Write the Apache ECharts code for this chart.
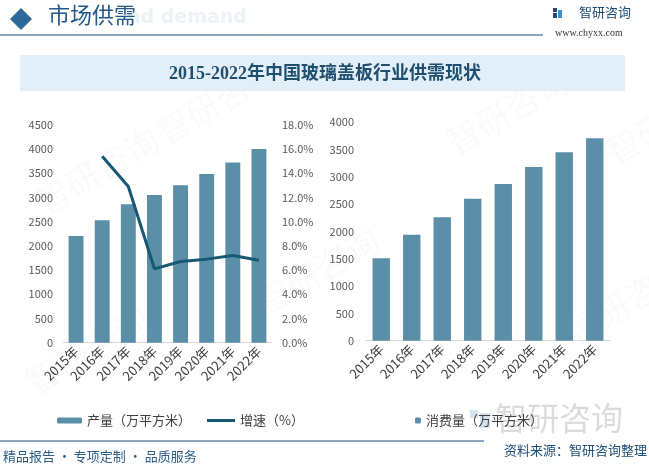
<!DOCTYPE html>
<html><head><meta charset="utf-8">
<script src="https://cdn.jsdelivr.net/npm/echarts@6/dist/echarts.min.js"></script>
<style>html,body{margin:0;padding:0;background:#fff}#c{width:649px;height:467px}</style>
</head><body><div id="c"></div>
<script>
const years = ['2015年','2016年','2017年','2018年','2019年','2020年','2021年','2022年'];
const production = [2200, 2530, 2860, 3050, 3250, 3480, 3720, 4000];
const growth = [null, 15.4, 12.9, 6.1, 6.7, 6.9, 7.2, 6.8];
const consumption = [1510, 1940, 2260, 2600, 2870, 3180, 3450, 3710];
const leftTicks = {min:0, max:4500, interval:500};
const rightTicks = {min:0, max:18, interval:2};
const consTicks = {min:0, max:4000, interval:500};

const BAR = '#5b8ea7', LINE = '#175873', DARK = '#1f4e79';
const FONT = '"Noto Sans CJK SC", "Noto Sans", sans-serif';
const SERIF = '"Liberation Serif", "DejaVu Serif", "Noto Sans CJK SC", serif';
const chart = echarts.init(document.getElementById('c'));
const wm = [];
const wmPos = [[150,120],[30,190],[440,130],[250,290],[560,320],[600,140],[20,370]];
wmPos.forEach(p => wm.push({type:'text', x:p[0], y:p[1], rotation:Math.PI/6, silent:true, z:-10,
  style:{text:'智研咨询', fontSize:34, fontFamily:FONT, fill:'rgba(200,215,230,0.13)'}}));
const legText = {fontSize:13, color:'#404040', fontFamily:FONT};

chart.setOption({
  animation:false,
  textStyle:{fontFamily:FONT},
  graphic: wm.concat([
    {type:'polygon', shape:{points:[[21,8],[32,19],[21,30],[10,19]]}, style:{fill:'#2d6a9a'}},
    {type:'text', x:127, y:9, style:{text:'nd demand', fontSize:19, fontWeight:'bold', fontFamily:'"DejaVu Sans"', fill:'#edf2f7'}},
    {type:'text', x:48, y:4, style:{text:'市场供需', fontSize:22, fontFamily:FONT, fill:'#22598a'}},
    {type:'line', shape:{x1:0,y1:35,x2:543,y2:35}, style:{stroke:DARK, lineWidth:1}},
    {type:'rect', shape:{x:553,y:8,width:4,height:4}, style:{fill:'#1f4e79'}},
    {type:'rect', shape:{x:558,y:10,width:4,height:8}, style:{fill:'#3b8fd0'}},
    {type:'rect', shape:{x:553,y:13,width:4,height:5}, style:{fill:'#1f4e79'}},
    {type:'text', x:579, y:6, style:{text:'智研咨询', fontSize:13, fontFamily:FONT, fill:DARK}},
    {type:'text', x:555, y:28, style:{text:'www.chyxx.com', fontSize:10, fontFamily:'"Liberation Serif", serif', fill:'#333'}},
    {type:'rect', shape:{x:20,y:55,width:605,height:36}, style:{fill:'#e3eff8'}},
    {type:'text', x:325, y:74, style:{text:'2015-2022年中国玻璃盖板行业供需现状', fontSize:18, fontWeight:'bold', fontFamily:SERIF, fill:'#1f4e6e', align:'center', verticalAlign:'middle'}},
    {type:'rect', z:-5, shape:{x:470,y:410,width:8,height:8}, style:{fill:'rgba(170,200,225,0.5)'}},
    {type:'rect', z:-5, shape:{x:480,y:413,width:10,height:15}, style:{fill:'rgba(170,200,225,0.5)'}},
    {type:'text', x:495, y:402, z:-5, style:{text:'智研咨询', fontSize:32, fontFamily:FONT, fill:'rgba(185,190,195,0.55)'}},
    {type:'line', shape:{x1:0,y1:441,x2:484,y2:441}, style:{stroke:DARK, lineWidth:1}},
    {type:'text', x:3, y:450, style:{text:'精品报告 · 专项定制 · 品质服务', fontSize:13, fontFamily:FONT, fill:'#2b5f8a'}},
    {type:'text', x:647, y:444, style:{text:'资料来源：智研咨询整理', fontSize:13, fontFamily:FONT, fill:'#1f4e79', align:'right'}}
  ]),
  legend:[
    {left:52, top:409, itemWidth:25, itemHeight:6, textStyle:legText, data:['产量（万平方米）']},
    {left:202, top:409, itemWidth:28, itemHeight:3, textStyle:legText, data:[{name:'增速（%）', icon:'rect'}]},
    {left:410, top:409, itemWidth:6, itemHeight:6, textStyle:legText, data:['消费量（万平方米）']}
  ],
  grid:[
    {left:63, right:649-272, top:124.7, height:218},
    {left:366, right:649-610, top:122.3, height:218.4}
  ],
  xAxis:[
    {type:'category', gridIndex:0, data:years, axisTick:{show:false}, axisLine:{lineStyle:{color:'#d9d9d9'}},
     axisLabel:{rotate:45, fontSize:13, color:'#404040', margin:6, interval:0}},
    {type:'category', gridIndex:1, data:years, axisTick:{show:false}, axisLine:{lineStyle:{color:'#d9d9d9'}},
     axisLabel:{rotate:45, fontSize:13, color:'#404040', margin:6, interval:0}}
  ],
  yAxis:[
    {type:'value', gridIndex:0, ...leftTicks, splitLine:{show:false}, axisLine:{show:false}, axisTick:{show:false},
     axisLabel:{fontSize:11, color:'#595959', margin:10, formatter:v=>String(v)}},
    {type:'value', gridIndex:0, position:'right', ...rightTicks, splitLine:{show:false}, axisLine:{show:false}, axisTick:{show:false},
     axisLabel:{fontSize:11, color:'#595959', margin:10, formatter:v=>v.toFixed(1)+'%'}},
    {type:'value', gridIndex:1, ...consTicks, splitLine:{show:false}, axisLine:{show:false}, axisTick:{show:false},
     axisLabel:{fontSize:11, color:'#595959', margin:12, formatter:v=>String(v)}}
  ],
  series:[
    {name:'产量（万平方米）', type:'bar', xAxisIndex:0, yAxisIndex:0, data:production, barWidth:'57%', itemStyle:{color:BAR}},
    {name:'增速（%）', type:'line', xAxisIndex:0, yAxisIndex:1, data:growth, symbol:'none', lineStyle:{color:LINE, width:3}, itemStyle:{color:LINE}},
    {name:'消费量（万平方米）', type:'bar', xAxisIndex:1, yAxisIndex:2, data:consumption, barWidth:'57%', itemStyle:{color:BAR}}
  ]
});
</script></body></html>
